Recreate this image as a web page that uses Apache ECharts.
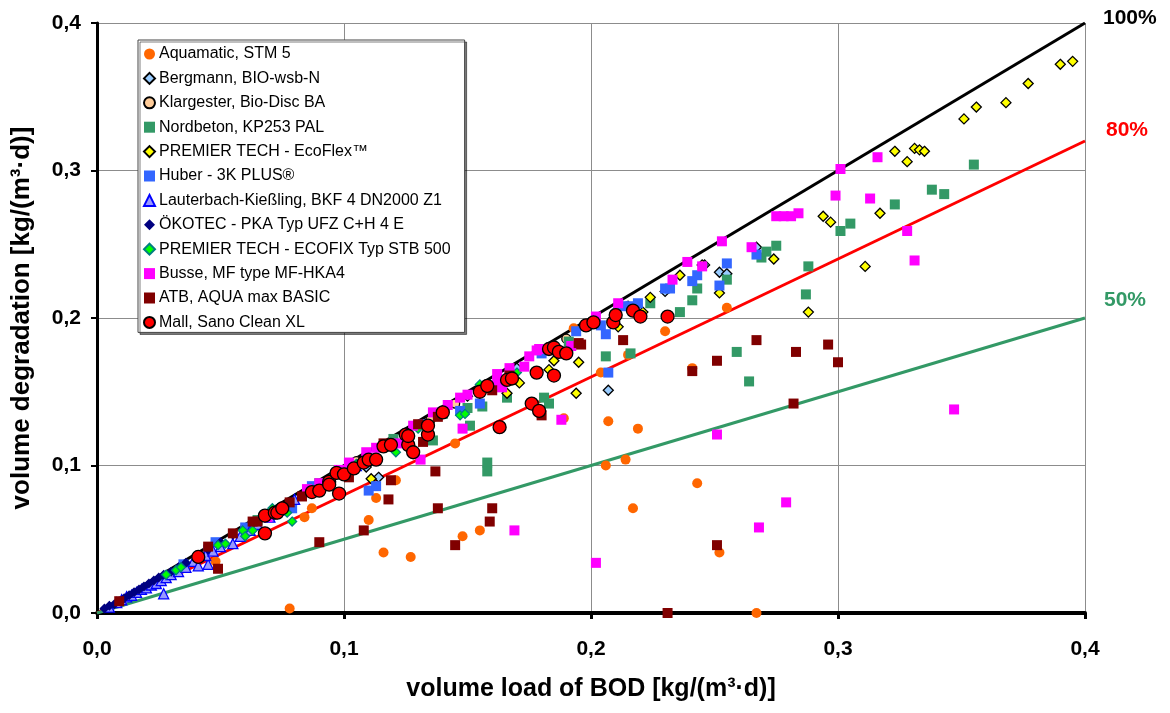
<!DOCTYPE html>
<html><head><meta charset="utf-8">
<script src="https://cdn.jsdelivr.net/npm/echarts@6/dist/echarts.min.js"></script>
<style>html,body{margin:0;padding:0;background:#fff}#c{width:1170px;height:713px}</style>
</head><body><div id="c"></div>
<script>
const seriesNames = ["Aquamatic, STM 5","Bergmann, BIO-wsb-N","Klargester, Bio-Disc BA","Nordbeton, KP253 PAL","PREMIER TECH - EcoFlex™","Huber - 3K PLUS®","Lauterbach-Kießling, BKF 4 DN2000 Z1","ÖKOTEC - PKA Typ UFZ C+H 4 E","PREMIER TECH - ECOFIX Typ STB 500","Busse, MF type MF-HKA4","ATB, AQUA max BASIC","Mall, Sano Clean XL"];
const axisTicks = [0, 0.1, 0.2, 0.3, 0.4];
const refLines = [{name:"100%", slope:1.0},{name:"80%", slope:0.8},{name:"50%", slope:0.5}];

const aquamatic = [[0.078,0.003],[0.048,0.035],[0.084,0.065],[0.087,0.071],[0.110,0.063],[0.113,0.078],[0.116,0.041],[0.127,0.038],[0.121,0.090],[0.145,0.115],[0.148,0.052],[0.155,0.056],[0.189,0.132],[0.193,0.193],[0.204,0.163],[0.207,0.130],[0.206,0.100],[0.214,0.104],[0.219,0.125],[0.217,0.071],[0.215,0.175],[0.230,0.191],[0.241,0.166],[0.243,0.088],[0.255,0.207],[0.252,0.041],[0.267,0.000]];
const bergmann = [[0.109,0.099],[0.114,0.092],[0.150,0.147],[0.170,0.166],[0.185,0.181],[0.207,0.151],[0.215,0.208],[0.230,0.218],[0.246,0.236],[0.252,0.231],[0.255,0.230],[0.267,0.248]];
const klargester = [[0.105,0.103],[0.120,0.117],[0.135,0.131],[0.145,0.142],[0.155,0.151],[0.190,0.186]];
const nordbeton = [[0.065,0.063],[0.090,0.088],[0.120,0.118],[0.136,0.117],[0.140,0.135],[0.150,0.139],[0.151,0.127],[0.156,0.140],[0.158,0.102],[0.158,0.096],[0.166,0.146],[0.181,0.146],[0.183,0.142],[0.191,0.184],[0.206,0.174],[0.216,0.176],[0.224,0.210],[0.236,0.204],[0.241,0.212],[0.243,0.220],[0.255,0.226],[0.259,0.177],[0.264,0.157],[0.269,0.241],[0.271,0.245],[0.275,0.249],[0.287,0.216],[0.288,0.235],[0.301,0.259],[0.305,0.264],[0.323,0.277],[0.338,0.287],[0.343,0.284],[0.355,0.304]];
const ecoflex = [[0.111,0.091],[0.166,0.149],[0.171,0.156],[0.183,0.165],[0.185,0.171],[0.194,0.149],[0.195,0.170],[0.211,0.194],[0.221,0.204],[0.224,0.214],[0.236,0.229],[0.245,0.236],[0.252,0.217],[0.274,0.240],[0.288,0.204],[0.294,0.269],[0.297,0.265],[0.311,0.235],[0.317,0.271],[0.323,0.313],[0.328,0.306],[0.331,0.315],[0.333,0.314],[0.335,0.313],[0.351,0.335],[0.356,0.343],[0.368,0.346],[0.377,0.359],[0.390,0.372],[0.395,0.374]];
const huber = [[0.035,0.033],[0.045,0.043],[0.048,0.048],[0.060,0.058],[0.079,0.071],[0.087,0.086],[0.110,0.083],[0.113,0.086],[0.132,0.128],[0.147,0.137],[0.155,0.142],[0.180,0.176],[0.194,0.191],[0.204,0.195],[0.206,0.189],[0.207,0.163],[0.213,0.208],[0.216,0.208],[0.219,0.210],[0.230,0.220],[0.232,0.220],[0.241,0.225],[0.243,0.229],[0.252,0.222],[0.255,0.237],[0.267,0.243]];
const lauterbach = [[0.005,0.004],[0.008,0.007],[0.010,0.009],[0.012,0.011],[0.014,0.012],[0.016,0.014],[0.018,0.016],[0.020,0.017],[0.022,0.019],[0.024,0.020],[0.027,0.013],[0.026,0.022],[0.028,0.024],[0.030,0.026],[0.033,0.028],[0.036,0.031],[0.039,0.035],[0.041,0.032],[0.045,0.033],[0.044,0.039],[0.047,0.042],[0.050,0.045],[0.055,0.047],[0.058,0.052],[0.062,0.056],[0.065,0.060],[0.070,0.065],[0.075,0.070],[0.080,0.077],[0.090,0.087],[0.100,0.095],[0.105,0.100]];
const okotec = [[0.003,0.003],[0.005,0.005],[0.007,0.006],[0.009,0.008],[0.011,0.010],[0.013,0.012],[0.015,0.014],[0.017,0.016],[0.019,0.018],[0.021,0.020],[0.023,0.022],[0.025,0.024],[0.027,0.026],[0.030,0.028],[0.033,0.031],[0.036,0.034],[0.040,0.038],[0.045,0.043],[0.050,0.048],[0.055,0.053]];
const ecofix = [[0.028,0.026],[0.032,0.029],[0.034,0.031],[0.049,0.046],[0.052,0.047],[0.059,0.056],[0.060,0.052],[0.063,0.056],[0.071,0.071],[0.077,0.068],[0.079,0.062],[0.085,0.082],[0.095,0.092],[0.100,0.097],[0.105,0.101],[0.121,0.109],[0.130,0.125],[0.147,0.134],[0.149,0.135],[0.155,0.155],[0.170,0.163],[0.200,0.195],[0.210,0.205]];
const busse = [[0.069,0.065],[0.085,0.084],[0.090,0.088],[0.098,0.097],[0.102,0.102],[0.109,0.109],[0.113,0.112],[0.122,0.115],[0.128,0.127],[0.131,0.104],[0.136,0.136],[0.142,0.141],[0.147,0.146],[0.148,0.125],[0.150,0.148],[0.162,0.157],[0.162,0.162],[0.164,0.153],[0.167,0.166],[0.169,0.056],[0.173,0.167],[0.175,0.174],[0.178,0.178],[0.179,0.179],[0.188,0.131],[0.192,0.181],[0.202,0.201],[0.202,0.034],[0.211,0.210],[0.233,0.226],[0.239,0.238],[0.245,0.235],[0.251,0.121],[0.253,0.252],[0.265,0.248],[0.268,0.058],[0.275,0.269],[0.278,0.269],[0.279,0.075],[0.281,0.269],[0.284,0.271],[0.299,0.283],[0.301,0.301],[0.313,0.281],[0.316,0.309],[0.328,0.259],[0.331,0.239],[0.347,0.138]];
const atb = [[0.009,0.008],[0.045,0.045],[0.049,0.030],[0.055,0.054],[0.063,0.062],[0.065,0.062],[0.078,0.075],[0.083,0.079],[0.090,0.048],[0.102,0.092],[0.108,0.056],[0.116,0.115],[0.118,0.077],[0.119,0.090],[0.130,0.128],[0.132,0.116],[0.137,0.096],[0.138,0.133],[0.138,0.071],[0.145,0.046],[0.159,0.062],[0.160,0.071],[0.160,0.151],[0.167,0.161],[0.180,0.134],[0.195,0.183],[0.196,0.182],[0.213,0.185],[0.231,0.000],[0.241,0.164],[0.251,0.171],[0.251,0.046],[0.267,0.185],[0.282,0.142],[0.283,0.177],[0.296,0.182],[0.300,0.170]];
const mall = [[0.041,0.038],[0.068,0.054],[0.068,0.066],[0.072,0.068],[0.073,0.068],[0.075,0.071],[0.087,0.082],[0.090,0.083],[0.094,0.089],[0.094,0.087],[0.097,0.095],[0.098,0.081],[0.100,0.094],[0.104,0.098],[0.108,0.102],[0.110,0.104],[0.113,0.104],[0.116,0.113],[0.119,0.114],[0.125,0.121],[0.126,0.114],[0.126,0.120],[0.128,0.109],[0.134,0.121],[0.134,0.127],[0.140,0.136],[0.155,0.150],[0.158,0.154],[0.163,0.126],[0.166,0.158],[0.168,0.159],[0.176,0.142],[0.178,0.163],[0.179,0.137],[0.183,0.179],[0.185,0.161],[0.185,0.180],[0.187,0.177],[0.190,0.176],[0.198,0.195],[0.201,0.197],[0.209,0.197],[0.210,0.202],[0.217,0.205],[0.220,0.201],[0.231,0.201]];

const dataSets = [aquamatic,bergmann,klargester,nordbeton,ecoflex,huber,lauterbach,okotec,ecofix,busse,atb,mall];
const styles = [
  {symbol:'circle', size:10, color:'#FF6600', border:null},
  {symbol:'diamond', size:10, color:'#99CCFF', border:'#000000'},
  {symbol:'circle', size:9, color:'#FFCC99', border:'#000000'},
  {symbol:'rect', size:10, color:'#339966', border:null},
  {symbol:'diamond', size:10, color:'#FFFF00', border:'#000000'},
  {symbol:'rect', size:10, color:'#3366FF', border:null},
  {symbol:'triangle', size:10, color:'#9999FF', border:'#0000FF'},
  {symbol:'diamond', size:10, color:'#000080', border:null},
  {symbol:'diamond', size:9, color:'#00FF00', border:'#008080'},
  {symbol:'rect', size:10, color:'#FF00FF', border:null},
  {symbol:'rect', size:10, color:'#800000', border:null},
  {symbol:'circle', size:13, color:'#FF0000', border:'#000000'}
];
const lineColors = ['#000000','#FF0000','#339966'];
const lineLabelOffsets = [[10,-5],[13,-11],[11,-18]];

const font = 'Liberation Sans, Arial, sans-serif';
const fmt = v => v.toFixed(1).replace('.', ',');

const series = [];
refLines.forEach((l,i) => {
  series.push({
    type:'line', name:l.name, data:[[0,0],[0.4,0.4*l.slope]], showSymbol:false, symbol:'none',
    lineStyle:{color:lineColors[i], width:3}, z:1, silent:true, animation:false,
    endLabel:{show:true, formatter:l.name, color:lineColors[i], fontFamily:font, fontWeight:'bold', fontSize:21, offset:lineLabelOffsets[i]}
  });
});
dataSets.forEach((d,i) => {
  const s = styles[i];
  series.push({
    type:'scatter', name:seriesNames[i], data:d, symbol:s.symbol, symbolSize:s.size, z:3+i,
    itemStyle:{color:s.color, borderColor:s.border || s.color, borderWidth:s.border?1.3:0, opacity:1},
    animation:false
  });
});

const chart = echarts.init(document.getElementById('c'), null, {renderer:'canvas'});
chart.setOption({
  backgroundColor:'#fff',
  grid:{left:97, right:85, top:23, bottom:100, containLabel:false},
  legend:{
    data:seriesNames, orient:'vertical', left:138, top:40,
    itemWidth:11, itemHeight:11, itemGap:8.4, padding:[6,14,2,5],
    backgroundColor:'#fff', borderColor:'#444', borderWidth:1,
    shadowColor:'rgba(0,0,0,0.5)', shadowOffsetX:2, shadowOffsetY:2, shadowBlur:0,
    textStyle:{fontFamily:font, fontSize:16, color:'#000', padding:[0,0,0,-1]},
    selectedMode:false
  },
  xAxis:{
    type:'value', min:0, max:0.4, interval:0.1,
    name:'volume load of BOD [kg/(m³·d)]', nameLocation:'middle', nameGap:64,
    nameTextStyle:{fontFamily:font, fontWeight:'bold', fontSize:25, color:'#000'},
    axisLine:{show:true, onZero:false, lineStyle:{color:'#000', width:4}},
    axisTick:{show:true, inside:false, length:6, lineStyle:{color:'#000', width:3}},
    axisLabel:{formatter:fmt, fontFamily:font, fontWeight:'bold', fontSize:21, color:'#000', margin:26},
    splitLine:{show:true, lineStyle:{color:'#8c8c8c', width:1}}
  },
  yAxis:{
    type:'value', min:0, max:0.4, interval:0.1,
    name:'volume degradation [kg/(m³·d)]', nameLocation:'middle', nameGap:62,
    nameTextStyle:{fontFamily:font, fontWeight:'bold', fontSize:26, color:'#000'},
    axisLine:{show:true, onZero:false, lineStyle:{color:'#000', width:3}},
    axisTick:{show:true, inside:false, length:6, lineStyle:{color:'#000', width:2}},
    axisLabel:{formatter:fmt, fontFamily:font, fontWeight:'bold', fontSize:21, color:'#000', margin:16},
    splitLine:{show:true, lineStyle:{color:'#8c8c8c', width:1}}
  },
  series:series
});
</script></body></html>
